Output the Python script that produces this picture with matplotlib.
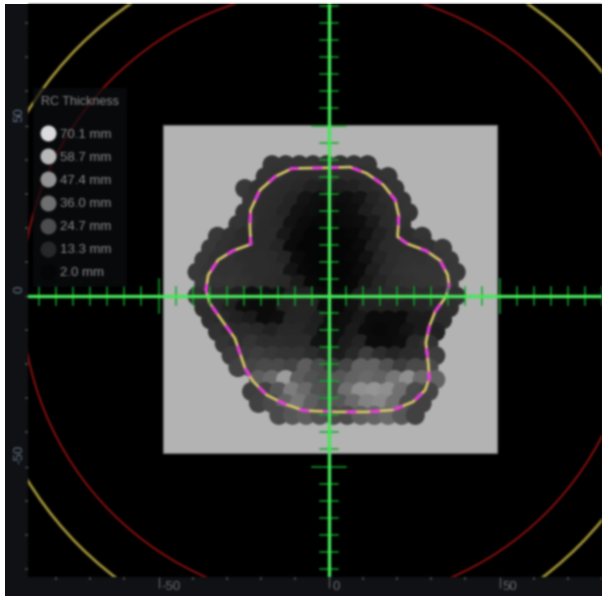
import numpy as np
import matplotlib
matplotlib.use("Agg")
import matplotlib.pyplot as plt
from matplotlib.patches import Circle, Rectangle
from matplotlib.collections import PatchCollection
from matplotlib.colors import LinearSegmentedColormap, Normalize
from matplotlib.lines import Line2D
from matplotlib.transforms import ScaledTranslation

plt.rcParams['font.family'] = ['Liberation Sans', 'DejaVu Sans']
plt.rcParams['lines.scale_dashes'] = False

# Thickness (mm) per hexagonal row, top to bottom, listed from the leftmost spot
row_first_x = [-16.7, -18.7, -24.7, -22.7, -24.7, -26.7, -32.7, -34.7, -36.7, -38.7, -36.7,
               -38.7, -36.7, -34.7, -32.7, -30.7, -28.7, -26.7, -20.7, -22.7, -20.7, -14.7]
thickness_rows = [
    [17, 17, 17, 17, 16, 16, 17, 17],
    [17, 16, 15, 14, 14, 14, 14, 14, 16, 17],
    [18, 16, 15, 14, 13, 11, 10, 10, 11, 13, 15, 17],
    [17, 15, 14, 12, 7, 5, 5, 5, 7, 12, 15, 17],
    [17, 15, 14, 12, 6, 5, 4, 4, 5, 10, 13, 15, 17],
    [17, 16, 14, 13, 6, 4, 3, 3, 4, 5, 9, 14, 16],
    [18, 16, 14, 14, 14, 8, 4, 2, 2, 2, 3, 6, 11, 14, 15, 17],
    [18, 16, 15, 14, 14, 12, 4, 2, 2, 2, 2, 4, 10, 14, 15, 15, 16, 18],
    [18, 16, 16, 15, 15, 14, 12, 4, 2, 2, 2, 3, 6, 12, 15, 16, 16, 17, 18],
    [18, 17, 16, 16, 15, 15, 14, 7, 3, 2, 2, 2, 4, 10, 14, 16, 17, 17, 17, 18],
    [18, 17, 17, 16, 15, 14, 13, 9, 3, 2, 2, 3, 8, 12, 15, 16, 17, 17, 18],
    [16, 14, 14, 10, 5, 5, 5, 11, 11, 4, 3, 3, 10, 12, 13, 13, 14, 14, 15, 16],
    [15, 13, 11, 5, 4, 4, 11, 12, 12, 4, 3, 6, 11, 11, 11, 10, 12, 13, 15],
    [15, 13, 11, 9, 4, 5, 12, 12, 10, 4, 5, 8, 4, 4, 4, 9, 9, 14],
    [16, 14, 14, 13, 11, 13, 13, 11, 5, 5, 9, 4, 3, 4, 7, 9, 11],
    [17, 15, 17, 15, 15, 14, 14, 6, 5, 9, 12, 4, 4, 5, 13, 16],
    [19, 18, 20, 18, 17, 17, 15, 12, 9, 13, 20, 15, 12, 14, 15, 20],
    [21, 22, 24, 24, 22, 30, 24, 18, 22, 32, 32, 26, 20, 24, 24],
    [30, 34, 50, 30, 26, 24, 28, 32, 34, 32, 38, 46, 34, 32],
    [20, 21, 28, 40, 34, 26, 24, 36, 46, 48, 46, 36, 24, 22],
    [21, 24, 32, 38, 30, 26, 28, 34, 42, 44, 36, 24, 21],
    [24, 28, 30, 26, 24, 24, 30, 32, 34, 28, 21],
]

# Outline
outline_x = [0, 6.2, 11, 15.9, 19.4, 20.5, 20.1, 22.8, 28.6, 32.6, 34.8, 35.2, 34.3, 31.1, 29.4,
             28.4, 29.1, 29.4, 28.2, 24.7, 18.9, 11, 2.2, -7.5, -13.4, -18.3, -22.2, -24.6, -26.1,
             -27.6, -31.5, -34.9, -36.1, -35.4, -32.5, -28.1, -22.9, -23.2, -23, -20.2, -15.8, -10.9, 0]
outline_y = [37.6, 37.8, 36, 32.6, 28.2, 23.3, 17.4, 15.4, 13.2, 10.4, 6.2, 3.2, -0.2, -4.6, -9,
             -13.7, -19.7, -24.1, -27.6, -31, -33.4, -34, -34, -33.6, -31.5, -29, -25.1, -21.2, -16.8,
             -12.4, -7, -2.2, 1.8, 6.2, 10.6, 13.3, 15.2, 20.3, 25.2, 31.1, 35, 37.4, 37.6]

legend_values = [70.1, 58.7, 47.4, 36.0, 24.7, 13.3, 2.0]
legend_title = "RC Thickness"
x_tick_labels = [-50, 0, 50]
y_tick_labels = [-50, 0, 50]
red_radius = 90
yellow_radius = 103.6

PX = 3.41
W, H = 602, 596
CX, CY = 329, 296
L, R, T, B = 28, 602, 4, 577


def blur(image, dpi, sigma=1.1):
    radius = 3
    kx = np.exp(-0.5 * (np.arange(-radius, radius + 1) / sigma) ** 2)
    kx /= kx.sum()
    pad = radius + 1
    a = image[..., 3]
    prem = np.dstack([image[..., i] * a for i in range(3)] + [a])
    prem = np.pad(prem, ((pad, pad), (pad, pad), (0, 0)))
    for axis in (0, 1):
        prem = np.apply_along_axis(lambda m: np.convolve(m, kx, mode='same'), axis, prem)
    al = prem[..., 3]
    out = np.zeros_like(prem)
    mask = al > 1e-4
    for i in range(3):
        out[..., i][mask] = np.clip(prem[..., i][mask] / al[mask], 0, 1)
    out[..., 3] = np.clip(al, 0, 1)
    return out, -pad, -pad


fig = plt.figure(figsize=(W / 100, H / 100), dpi=100, facecolor='white')
fig.add_artist(Rectangle((5 / W, 0), (W - 5) / W, (H - T) / H, transform=fig.transFigure,
                         facecolor='#101114', edgecolor='none', zorder=-10))
ax = fig.add_axes([L / W, (H - B) / H, (R - L) / W, (B - T) / H], zorder=1)
ax.set_facecolor('black')
ax.set_xlim((L - CX) / PX, (R - CX) / PX)
ax.set_ylim((CY - B) / PX, (CY - T) / PX)
ax.set_aspect('equal', adjustable='box')
for s in ax.spines.values():
    s.set_visible(False)

# Ring limits
for rad, col, lw in [(red_radius, '#8c1010', 1.4), (yellow_radius, '#a89a3c', 1.9)]:
    ax.add_patch(Circle((0, 0), rad, fill=False, edgecolor=col, linewidth=lw, zorder=1))

# Grey image frame
ax.add_patch(Rectangle((-48.7, -46), 98.0, 96.1, facecolor='#b4b4b4', edgecolor='#777777',
                       linewidth=0.8, zorder=2))

# Thickness spots
cmap = LinearSegmentedColormap.from_list('rc', ['#050505', '#dcdcdc'])
norm = Normalize(2.0, 70.1)
patches, vals = [], []
for k, (x0, row) in enumerate(zip(row_first_x, thickness_rows)):
    y = 38.5 - 3.5 * k
    for n, v in enumerate(row):
        patches.append(Circle((x0 + 4 * n, y), 2.8))
        vals.append(v)
spots = PatchCollection(patches, cmap=cmap, norm=norm, edgecolor='none', zorder=3)
spots.set_array(np.array(vals, dtype=float))
ax.add_collection(spots)

# Contour
ax.plot(outline_x, outline_y, color='#d8c66a', lw=2.0, zorder=4, solid_joinstyle='round')
ax.plot(outline_x, outline_y, color='#f030e8', lw=2.0, zorder=5, dashes=(7, 10),
        dash_capstyle='butt')

# Green cross with graduations
x0, x1 = ax.get_xlim()
y0, y1 = ax.get_ylim()
grad = '#12a428'
for g in range(-85, 90, 5):
    if g == 0:
        continue
    half = 5 if abs(g) == 50 else 2.5
    if x0 < g < x1:
        ax.plot([g, g], [-half, half], color=grad, lw=1.1, zorder=6)
    if y0 < g < y1:
        ax.plot([-half, half], [g, g], color=grad, lw=1.1, zorder=6)
ax.axhline(0, color='#45e85a', lw=2.4, zorder=7)
ax.axvline(0, color='#45e85a', lw=2.4, zorder=7)

# Rulers
ax.set_xticks(x_tick_labels)
ax.set_yticks(y_tick_labels)
ax.set_xticklabels([str(v) for v in x_tick_labels], ha='left', color='#6a6e74', fontsize=9.5)
ax.set_yticklabels([str(v) for v in y_tick_labels], rotation=90, va='bottom', color='#66788c',
                   fontsize=9.5)
ax.tick_params(axis='x', which='major', direction='out', length=8, width=0.8, color='#666a70', pad=-5)
ax.tick_params(axis='y', which='major', direction='out', length=2, width=0.8, color='#666a70', pad=0)
for lab in ax.get_xticklabels():
    lab.set_transform(lab.get_transform() + ScaledTranslation(3 / 100, 0, fig.dpi_scale_trans))
for lab in ax.get_yticklabels():
    lab.set_transform(lab.get_transform() + ScaledTranslation(0, 3 / 100, fig.dpi_scale_trans))
ax.set_xticks([g for g in range(-80, 81, 10) if g % 50], minor=True)
ax.set_yticks([g for g in range(-80, 81, 10) if g % 50], minor=True)
ax.tick_params(which='minor', direction='out', length=2, width=1.2, color='#4a4d52')

# Legend
handles = [Line2D([], [], linestyle='none', marker='o', markersize=11.5, markeredgewidth=0,
                  markerfacecolor=cmap(norm(v)), label=f"{v:.1f} mm") for v in legend_values]
leg = ax.legend(handles=handles, title=legend_title, loc='upper left',
                bbox_to_anchor=((33 - L) / (R - L), 1 - (88 - T) / (B - T)),
                fontsize=9.5, title_fontsize=9, frameon=True, fancybox=False, framealpha=0.7,
                facecolor='#0c0d10', edgecolor='none', labelcolor='#8c8c8c',
                labelspacing=0.82, handletextpad=0.38, handlelength=1.1, borderpad=0.6,
                borderaxespad=0, alignment='left')
leg._legend_box.sep = 15
leg.get_title().set_color('#8c8c8c')
leg.set_zorder(8)

ax.set_agg_filter(blur)
fig.savefig('out.png', dpi=100, facecolor='white')
